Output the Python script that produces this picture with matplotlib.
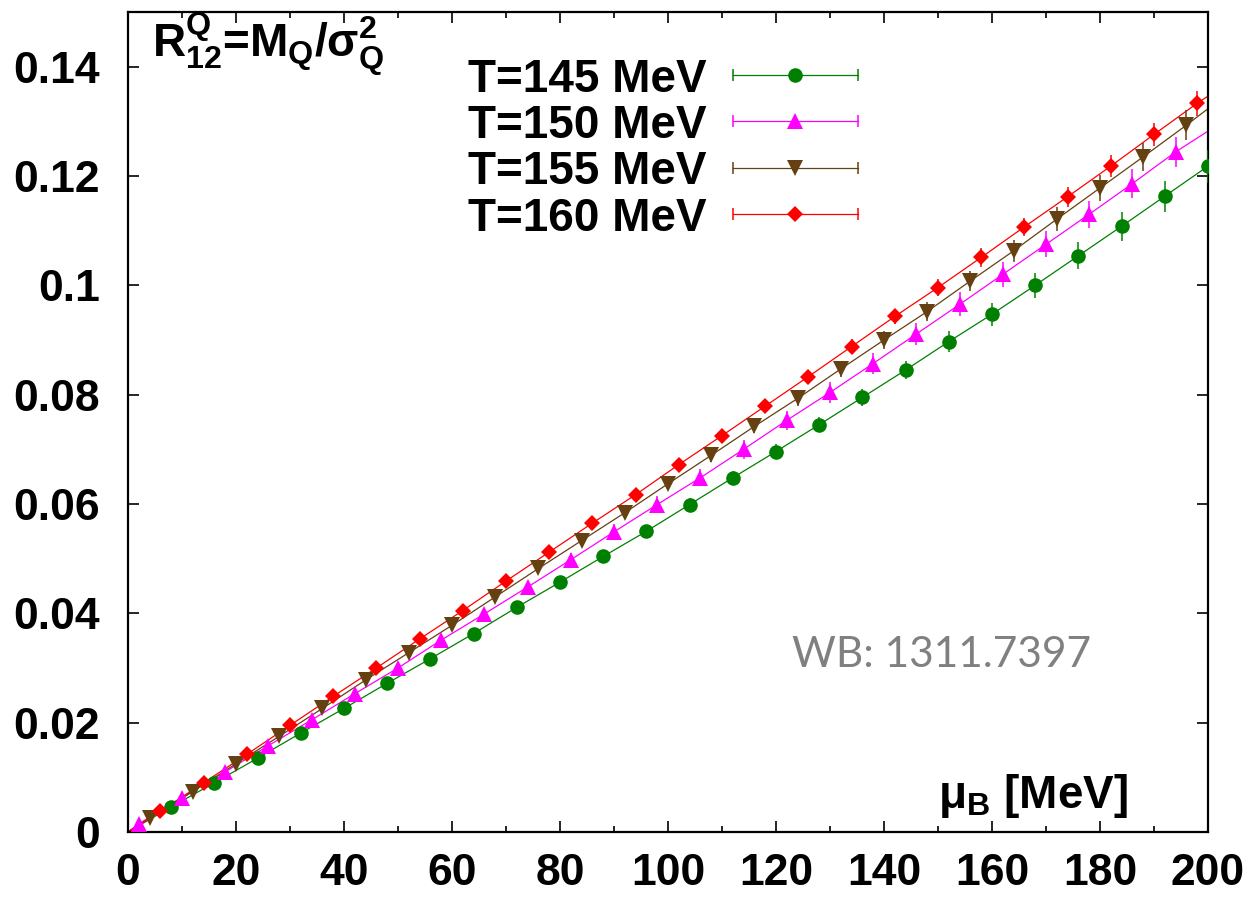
import numpy as np
import matplotlib
matplotlib.use("Agg")
import matplotlib.pyplot as plt
from matplotlib.ticker import MultipleLocator, FuncFormatter

plt.rcParams['font.family'] = ['Liberation Sans', 'DejaVu Sans']
plt.rcParams['font.weight'] = 'bold'
plt.rcParams['mathtext.fontset'] = 'custom'
plt.rcParams['mathtext.rm'] = 'Liberation Sans:bold'
plt.rcParams['mathtext.it'] = 'Liberation Sans:bold'
plt.rcParams['mathtext.bf'] = 'Liberation Sans:bold'
plt.rcParams['mathtext.default'] = 'rm'

# mu_B grids of each temperature
mu_145 = np.arange(8, 201, 8)
mu_150 = np.arange(2, 195, 8)
mu_155 = np.arange(4, 197, 8)
mu_160 = np.arange(6, 199, 8)

# R12 values
r_145 = [0.0046, 0.0090, 0.0135, 0.0181, 0.0226, 0.0272, 0.0317, 0.0363, 0.0411, 0.0457,
         0.0504, 0.0550, 0.0599, 0.0648, 0.0696, 0.0745, 0.0795, 0.0845, 0.0897, 0.0947,
         0.1000, 0.1054, 0.1108, 0.1163, 0.1218]
r_150 = [0.0015, 0.0063, 0.0110, 0.0158, 0.0205, 0.0253, 0.0300, 0.0351, 0.0399, 0.0448,
         0.0498, 0.0549, 0.0599, 0.0648, 0.0700, 0.0753, 0.0804, 0.0857, 0.0911, 0.0965,
         0.1020, 0.1075, 0.1130, 0.1186, 0.1244]
r_155 = [0.0025, 0.0074, 0.0125, 0.0175, 0.0226, 0.0278, 0.0328, 0.0378, 0.0430, 0.0482,
         0.0533, 0.0584, 0.0637, 0.0689, 0.0742, 0.0793, 0.0847, 0.0900, 0.0952, 0.1008,
         0.1063, 0.1121, 0.1178, 0.1235, 0.1293]
r_160 = [0.0038, 0.0090, 0.0142, 0.0195, 0.0248, 0.0300, 0.0353, 0.0405, 0.0459, 0.0512,
         0.0565, 0.0617, 0.0672, 0.0725, 0.0779, 0.0833, 0.0888, 0.0943, 0.0996, 0.1051,
         0.1107, 0.1162, 0.1218, 0.1276, 0.1333]

# errors
e_145 = [0.0003, 0.0003, 0.0004, 0.0004, 0.0005, 0.0005, 0.0006, 0.0007, 0.0008, 0.0008,
         0.0009, 0.0010, 0.0012, 0.0012, 0.0013, 0.0014, 0.0016, 0.0017, 0.0019, 0.0021,
         0.0023, 0.0025, 0.0027, 0.0028, 0.0030]
e_150 = [0.0003, 0.0004, 0.0005, 0.0006, 0.0007, 0.0008, 0.0009, 0.0010, 0.0011, 0.0012,
         0.0013, 0.0014, 0.0015, 0.0016, 0.0017, 0.0018, 0.0019, 0.0020, 0.0021, 0.0022,
         0.0023, 0.0024, 0.0025, 0.0026, 0.0027]
e_155 = [0.0002, 0.0002, 0.0003, 0.0003, 0.0004, 0.0004, 0.0005, 0.0005, 0.0006, 0.0007,
         0.0008, 0.0010, 0.0011, 0.0012, 0.0013, 0.0014, 0.0014, 0.0016, 0.0017, 0.0018,
         0.0020, 0.0022, 0.0023, 0.0026, 0.0027]
e_160 = [0.0003, 0.0004, 0.0005, 0.0006, 0.0007, 0.0008, 0.0008, 0.0009, 0.0009, 0.0010,
         0.0010, 0.0011, 0.0011, 0.0012, 0.0012, 0.0013, 0.0014, 0.0014, 0.0016, 0.0017,
         0.0017, 0.0018, 0.0020, 0.0021, 0.0023]

# value of each fit line at mu_B = 200
end_145 = 0.1218
end_150 = 0.1282
end_155 = 0.1323
end_160 = 0.1346

labels = ['T=145 MeV', 'T=150 MeV', 'T=155 MeV', 'T=160 MeV']
colors = ['#008000', '#ff00ff', '#654010', '#ff0000']
markers = ['o', '^', 'v', 'D']
msizes = [10.5, 11, 11, 8]

series = [(mu_145, r_145, e_145, end_145),
          (mu_150, r_150, e_150, end_150),
          (mu_155, r_155, e_155, end_155),
          (mu_160, r_160, e_160, end_160)]

fig = plt.figure(figsize=(12.55, 8.97), dpi=100)
ax = fig.add_axes([0.102, 0.0725, 0.8605, 0.9141])

for i, (mu, r, e, end) in enumerate(series):
    # fit line from the origin to the right edge
    ax.plot(np.concatenate([[0], mu, [200]]), np.concatenate([[0], r, [end]]),
            color=colors[i], lw=0.9, zorder=2)
    ax.errorbar(mu, r, yerr=e, fmt=markers[i], color=colors[i], ms=msizes[i],
                mew=0, elinewidth=1.1, capsize=4.5, capthick=1.1, zorder=3)

# key, drawn by hand in gnuplot style
for i in range(4):
    yb = 0.903 - i * 0.0565
    yc = 0.923 - i * 0.0565
    ax.text(0.536, yb, labels[i], transform=ax.transAxes, ha='right', va='baseline',
            fontsize=33)
    ax.plot([0.560, 0.676], [yc, yc], transform=ax.transAxes, color=colors[i], lw=0.9)
    ax.plot([0.560, 0.676], [yc, yc], transform=ax.transAxes, ls='none', marker='|',
            ms=9, mew=1.1, color=colors[i])
    ax.plot([0.618], [yc], transform=ax.transAxes, marker=markers[i], ms=msizes[i],
            mew=0, color=colors[i])

ax.text(0.022, 0.945, r'$R^{Q}_{12}$=$M_{Q}/\sigma^{2}_{Q}$', transform=ax.transAxes,
        ha='left', va='baseline', fontsize=33)
ax.text(0.75, 0.029, r'$\mu_{B}$ [MeV]', transform=ax.transAxes,
        ha='left', va='baseline', fontsize=33)
ax.text(0.615, 0.201, 'WB: 1311.7397', transform=ax.transAxes, ha='left',
        va='baseline', fontsize=30.5, color='#808080', fontweight='normal',
        family=['Lato', 'DejaVu Sans'])

ax.set_xlim(0, 200)
ax.set_ylim(0, 0.15)
ax.xaxis.set_major_locator(MultipleLocator(20))
ax.xaxis.set_minor_locator(MultipleLocator(10))
ax.yaxis.set_major_locator(MultipleLocator(0.02))
ax.yaxis.set_major_formatter(FuncFormatter(lambda v, p: '%g' % round(v, 4)))
ax.tick_params(which='both', direction='in', top=True, right=True, labelsize=32)
ax.tick_params(which='major', length=8, width=1.2)
ax.tick_params(which='minor', length=4, width=1.2)
ax.tick_params(axis='x', pad=15)
ax.tick_params(axis='y', pad=20)
for s in ax.spines.values():
    s.set_linewidth(1.6)

fig.savefig('out.png', dpi=100)
